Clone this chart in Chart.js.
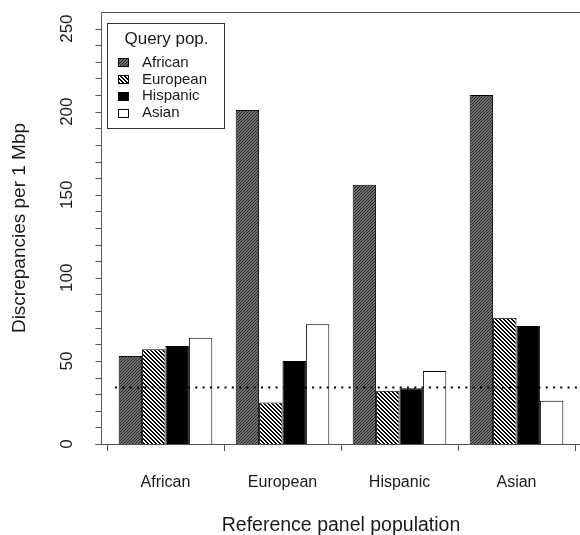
<!DOCTYPE html>
<html><head><meta charset="utf-8">
<script src="https://cdn.jsdelivr.net/npm/chart.js@4"></script>
<style>html,body{margin:0;padding:0;background:#fff}canvas{display:block}</style>
</head><body>
<canvas id="c" width="580" height="535"></canvas>
<script>
const categories = ['African', 'European', 'Hispanic', 'Asian'];
const queryPops = ['African', 'European', 'Hispanic', 'Asian'];
const africanQuery = [53, 201, 156, 210];
const europeanQuery = [57, 25, 32, 76];
const hispanicQuery = [59, 50, 33.5, 71];
const asianQuery = [64, 72, 44, 26];
const baselineValue = 34;
const yTickLabels = [0, 50, 100, 150, 200, 250];
const yMinorTicks = [0, 10, 20, 30, 40, 50, 60, 70, 80, 90, 100, 110, 120, 130, 140, 150, 160, 170, 180, 190, 200, 210, 220, 230, 240, 250];

const FONT = 'Liberation Sans, Arial, Helvetica, sans-serif';
const TXT = '#1a1a1a';
const AX = '#555';

const canvas = document.getElementById('c');
const ctx = canvas.getContext('2d');

function makePattern(kind) {
  const c = document.createElement('canvas');
  const g = c.getContext('2d');
  if (kind === 'dense') {
    c.width = c.height = 3;
    g.fillStyle = '#707070'; g.fillRect(0, 0, 3, 3);
    g.fillStyle = '#2a2a2a';
    for (let i = 0; i < 3; i++) g.fillRect(i, 2 - i, 1, 1);
  } else {
    c.width = c.height = 4;
    g.fillStyle = '#fff'; g.fillRect(0, 0, 4, 4);
    g.fillStyle = '#000';
    for (let i = 0; i < 4; i++) { g.fillRect(i, i, 1, 1); g.fillRect((i + 1) % 4, i, 1, 1); }
  }
  return ctx.createPattern(c, 'repeat');
}

const fills = [makePattern('dense'), makePattern('stripe'), '#000', '#fff'];
const seriesValues = [africanQuery, europeanQuery, hispanicQuery, asianQuery];

const decorPlugin = {
  id: 'decor',
  afterDraw(chart) {
    const c = chart.ctx;
    const ca = chart.chartArea;
    const ys = chart.scales.y;
    const W = chart.width;
    const axX = Math.round(ca.left - 6) + 0.5;
    const y0 = Math.round(ys.getPixelForValue(0)) + 0.5;
    c.save();
    c.strokeStyle = AX; c.lineWidth = 1;
    c.beginPath();
    c.moveTo(axX, Math.round(ca.top) + 0.5); c.lineTo(W, Math.round(ca.top) + 0.5);
    c.moveTo(axX, Math.round(ca.top) + 0.5); c.lineTo(axX, y0);
    c.moveTo(axX - 6, y0); c.lineTo(W, y0);
    yMinorTicks.forEach(v => {
      const yy = Math.round(ys.getPixelForValue(v)) + 0.5;
      c.moveTo(axX - 6, yy); c.lineTo(axX, yy);
    });
    c.stroke();

    const by = ys.getPixelForValue(baselineValue);
    c.strokeStyle = '#000'; c.lineWidth = 2; c.setLineDash([2, 5.3]);
    c.beginPath(); c.moveTo(ca.left + 8, by); c.lineTo(W, by); c.stroke();
    c.setLineDash([]);

    const lx = ca.left, ly = ca.top + 11, lw = 117, lh = 105;
    c.fillStyle = '#fff';
    c.fillRect(lx, ly, lw, lh);
    c.strokeStyle = '#333'; c.lineWidth = 1;
    c.strokeRect(Math.round(lx) + 0.5, Math.round(ly) + 0.5, lw, lh);
    c.fillStyle = TXT;
    c.textBaseline = 'middle';
    c.textAlign = 'center';
    c.font = '17px ' + FONT;
    c.fillText('Query pop.', lx + lw / 2 + 1, ly + 16);
    c.textAlign = 'left';
    c.font = '15px ' + FONT;
    chart.data.datasets.forEach((ds, i) => {
      const ry = ly + 39.5 + i * 16.9;
      c.fillStyle = ds.backgroundColor;
      c.fillRect(lx + 11, Math.round(ry - 4.5), 11, 9);
      c.strokeStyle = '#000'; c.lineWidth = 1;
      c.strokeRect(lx + 11.5, Math.round(ry - 4.5) + 0.5, 10, 8);
      c.fillStyle = TXT;
      c.fillText(ds.label, lx + 35, ry);
    });
    c.restore();
  }
};

new Chart(canvas, {
  type: 'bar',
  data: {
    labels: categories,
    datasets: queryPops.map((name, i) => ({
      label: name,
      data: seriesValues[i],
      backgroundColor: fills[i],
      borderColor: '#000',
      borderWidth: 1,
      barPercentage: 1,
      categoryPercentage: 0.8
    }))
  },
  options: {
    responsive: false,
    devicePixelRatio: 1,
    animation: false,
    layout: { padding: { top: 12, right: 5, left: 0, bottom: 0 } },
    plugins: { legend: { display: false }, tooltip: { enabled: false } },
    scales: {
      x: {
        offset: true,
        grid: { display: true, offset: true, drawOnChartArea: false, drawTicks: true, tickLength: 7, color: AX, lineWidth: 1 },
        border: { display: false },
        ticks: { font: { family: FONT, size: 16 }, color: TXT, padding: 22, maxRotation: 0 },
        title: { display: true, text: 'Reference panel population', font: { family: FONT, size: 19.5, lineHeight: 1 }, color: TXT, padding: { top: 0, bottom: 0 } },
        afterFit(s) { s.height = 91; s.paddingLeft = 0; s.paddingRight = 0; }
      },
      y: {
        min: 0, max: 260,
        grid: { display: false, drawTicks: false },
        border: { display: false },
        afterBuildTicks(s) { s.ticks = yTickLabels.map(v => ({ value: v })); },
        ticks: { font: { family: FONT, size: 17 }, color: TXT, minRotation: 90, maxRotation: 90, crossAlign: 'center', padding: 26 },
        title: { display: true, text: 'Discrepancies per 1 Mbp', font: { family: FONT, size: 19, lineHeight: 1.2 }, color: TXT, padding: { top: 8.3, bottom: 0 } },
        afterFit(s) { s.width = 107; s.paddingTop = 0; s.paddingBottom = 0; }
      }
    }
  },
  plugins: [decorPlugin]
});
</script>
</body></html>
